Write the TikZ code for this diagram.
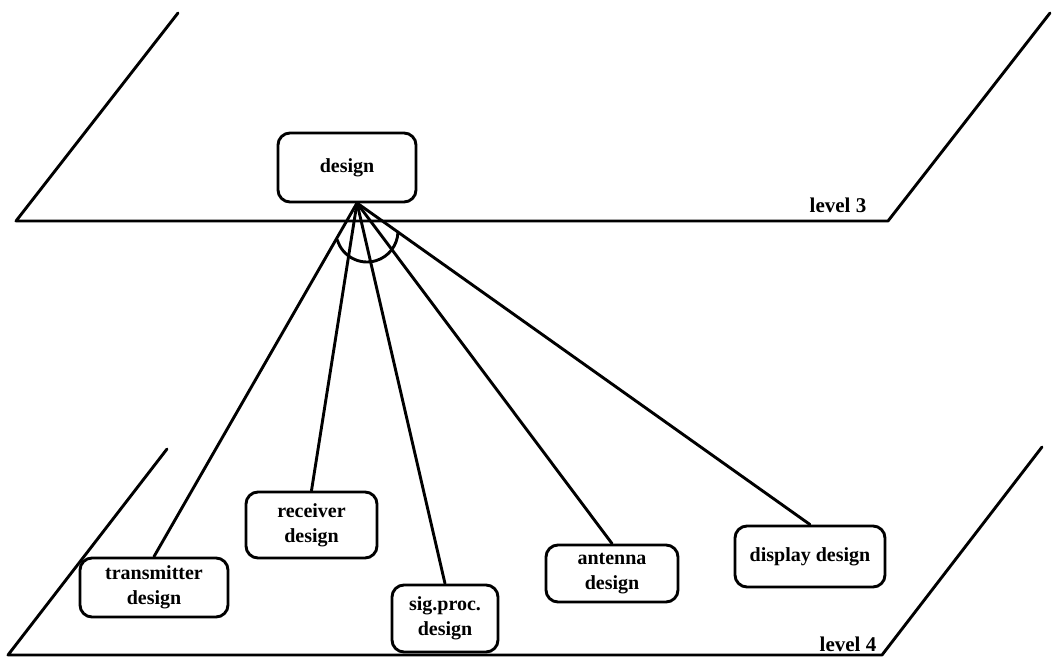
\documentclass[tikz,border=0pt]{standalone}
\usepackage{fontspec}
\setmainfont{Liberation Serif}
\begin{document}
\begin{tikzpicture}[x=1pt,y=-1pt, line width=2.9pt, line join=round, line cap=round,
  box/.style={draw, rounded corners=12pt, align=center, inner sep=0pt,
    font=\fontsize{20}{25}\selectfont\bfseries},
  lbl/.style={inner sep=0pt, anchor=base, font=\fontsize{21}{25}\selectfont\bfseries}]
\useasboundingbox (0,0) rectangle (1053,658);
% planes
\draw (178,13) -- (16,221) -- (888,221) -- (1050,13);
\draw (167,449) -- (8,655) -- (882,655) -- (1042,447);
\node[lbl] (l3) at (838,213) {level 3};
\node[lbl] (l4) at (848,651) {level 4};
% nodes
\node[box, minimum width=138pt, minimum height=69pt] (d) at (347,167.5) {design};
\node[box, minimum width=148pt, minimum height=59pt] (t) at (154,587.5) {transmitter\\design};
\node[box, minimum width=131pt, minimum height=66pt] (r) at (311.5,525) {receiver\\design};
\node[box, minimum width=106pt, minimum height=67pt] (s) at (445,618.5) {sig.proc.\\design};
\node[box, minimum width=132pt, minimum height=57pt] (a) at (612,573.5) {antenna\\design};
\node[box, minimum width=150pt, minimum height=61pt] (dd) at (810,556.5) {display design};
% connectors
\coordinate (apex) at (357,203);
\draw (apex) -- (t.north);
\draw (apex) -- (r.north);
\draw (apex) -- (s.north);
\draw (apex) -- (a.north);
\draw (apex) -- (dd.north);
\coordinate (ac) at (367,231);
\draw (ac) ++(163:31) arc[start angle=163, end angle=2, radius=31];
\end{tikzpicture}
\end{document}
